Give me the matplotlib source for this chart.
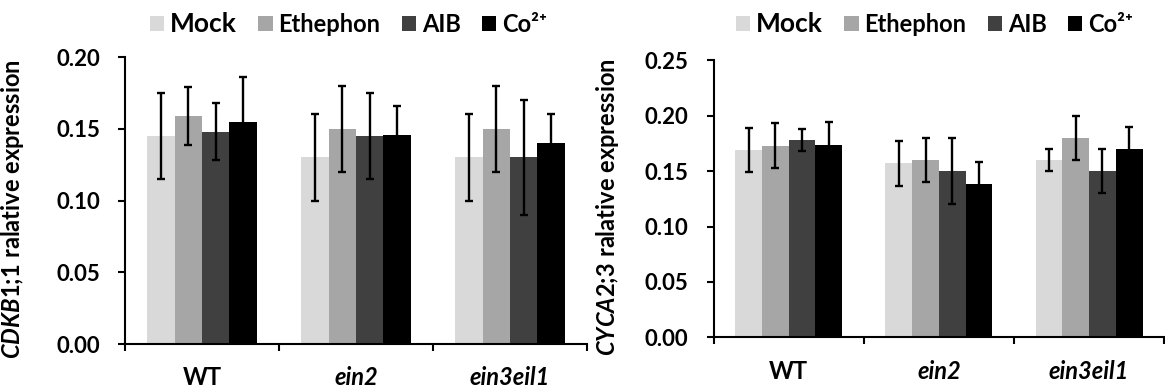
import matplotlib
matplotlib.use("Agg")
import matplotlib.pyplot as plt
import numpy as np

plt.rcParams["font.family"] = ["Lato", "DejaVu Sans"]
plt.rcParams["font.weight"] = "bold"
plt.rcParams["mathtext.fontset"] = "custom"
plt.rcParams["mathtext.rm"] = "Lato:bold"
plt.rcParams["mathtext.it"] = "Lato:italic:bold"
plt.rcParams["mathtext.bf"] = "Lato:bold"

groups = ["WT", "ein2", "ein3eil1"]
treatments = ["Mock", "Ethephon", "AIB", "Co²⁺"]
colors = ["#d9d9d9", "#a6a6a6", "#404040", "#000000"]

# CDKB1;1 (left panel), one list per treatment over groups
cdkb_mock = [0.145, 0.130, 0.130]
cdkb_eth = [0.159, 0.150, 0.150]
cdkb_aib = [0.148, 0.145, 0.130]
cdkb_co = [0.155, 0.146, 0.140]
cdkb_mock_err = [0.030, 0.030, 0.030]
cdkb_eth_err = [0.020, 0.030, 0.030]
cdkb_aib_err = [0.020, 0.030, 0.040]
cdkb_co_err = [0.031, 0.020, 0.020]

# CYCA2;3 (right panel)
cyca_mock = [0.169, 0.157, 0.160]
cyca_eth = [0.173, 0.160, 0.180]
cyca_aib = [0.178, 0.150, 0.150]
cyca_co = [0.174, 0.138, 0.170]
cyca_mock_err = [0.020, 0.020, 0.010]
cyca_eth_err = [0.020, 0.020, 0.020]
cyca_aib_err = [0.010, 0.030, 0.020]
cyca_co_err = [0.020, 0.020, 0.020]

cdkb_ticks = [0.00, 0.05, 0.10, 0.15, 0.20]
cyca_ticks = [0.00, 0.05, 0.10, 0.15, 0.20, 0.25]


def draw_panel(fig, ax, means, errs, yticks, ylabel, label_xy, leg_xy):
    x = np.arange(len(groups))
    width = 0.178
    for i, (m, e) in enumerate(zip(means, errs)):
        ax.bar(x + (i - 1.5) * width, m, width=width, color=colors[i],
               label=treatments[i], zorder=2)
        ax.errorbar(x + (i - 1.5) * width, m, yerr=e, fmt="none", ecolor="black",
                    elinewidth=1.7, capsize=3, capthick=1.7, zorder=3)
    ax.set_xlim(-0.5, len(groups) - 0.5)
    ax.set_ylim(yticks[0], yticks[-1])
    ax.set_yticks(yticks)
    ax.set_yticklabels([f"{t:.2f}" for t in yticks], fontsize=16, fontweight="bold")
    ax.set_xticks(x)
    ax.set_xticklabels(groups, fontsize=17, fontweight="bold")
    for lab in ax.get_xticklabels()[1:]:
        lab.set_fontstyle("italic")
    ax.set_xticks(np.arange(len(groups) + 1) - 0.5, minor=True)
    ax.tick_params(axis="x", which="major", length=0, pad=16)
    ax.tick_params(axis="x", which="minor", length=5, width=1.5, direction="out")
    ax.tick_params(axis="y", length=5, width=1.5, direction="out", pad=13)
    for side in ["top", "right"]:
        ax.spines[side].set_visible(False)
    for side in ["left", "bottom"]:
        ax.spines[side].set_linewidth(1.5)
    ax.set_ylabel(ylabel, fontsize=17, fontweight="bold")
    ax.yaxis.set_label_coords(*label_xy)
    leg = ax.legend(loc="center left", bbox_to_anchor=leg_xy, bbox_transform=fig.transFigure,
                    ncol=4, frameon=False, fontsize=17, handlelength=0.6, handleheight=0.6,
                    handletextpad=0.25, columnspacing=0.9, borderaxespad=0, borderpad=0)
    leg.get_texts()[0].set_fontsize(19)


fig = plt.figure(figsize=(11.65, 3.92), dpi=100)
ax1 = fig.add_axes([0.1073, 0.1224, 0.3966, 0.7321])
ax2 = fig.add_axes([0.6125, 0.1395, 0.3868, 0.7066])

draw_panel(fig, ax1, [cdkb_mock, cdkb_eth, cdkb_aib, cdkb_co],
           [cdkb_mock_err, cdkb_eth_err, cdkb_aib_err, cdkb_co_err],
           cdkb_ticks, "$\\mathit{CDKB1;}\\!\\mathit{1}$ ralative expression",
           (-0.215, 0.47), (0.129, 0.938))
draw_panel(fig, ax2, [cyca_mock, cyca_eth, cyca_aib, cyca_co],
           [cyca_mock_err, cyca_eth_err, cyca_aib_err, cyca_co_err],
           cyca_ticks, "$\\mathit{CYCA2;}\\!\\mathit{3}$ ralative expression",
           (-0.2055, 0.47), (0.632, 0.938))

fig.savefig("out.png", dpi=100)
